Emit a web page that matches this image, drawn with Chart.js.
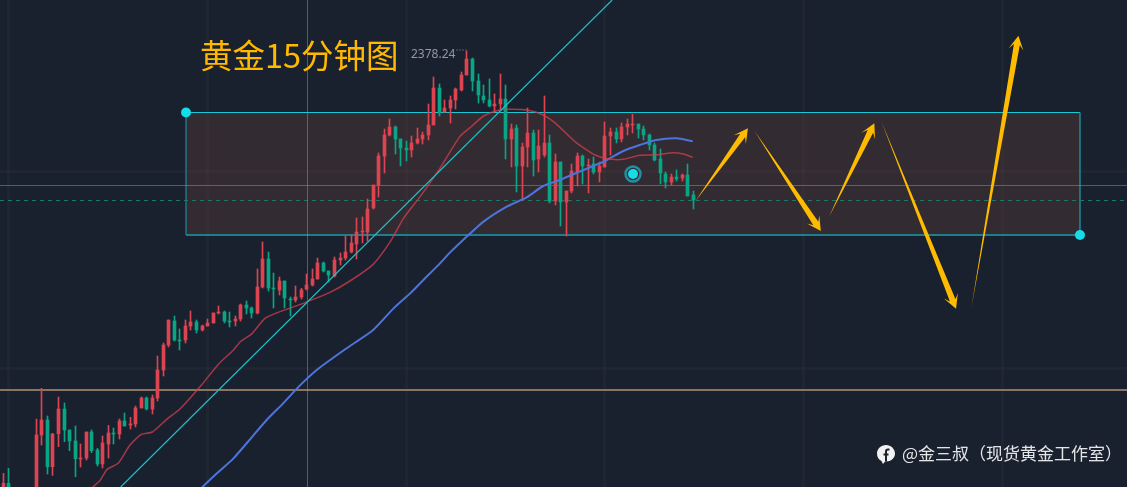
<!DOCTYPE html>
<html>
<head>
<meta charset="utf-8">
<title>黄金15分钟图</title>
<script src="https://cdn.jsdelivr.net/npm/chart.js@4"></script>
<style>
html, body { margin: 0; padding: 0; background: #1a212e; overflow: hidden; }
#wrap { position: relative; width: 1127px; height: 487px; }
canvas { display: block; }
.txt { position: absolute; white-space: nowrap; font-family: "Noto Sans CJK SC", "Noto Sans", sans-serif; }
#title { left: 200px; top: 31px; font-size: 32.5px; line-height: 46px; color: #ffb900; }
#high { left: 411px; top: 45px; font-size: 12px; line-height: 18px; color: #9297a3; font-family: "Noto Sans", sans-serif; }
#mark { left: 902px; top: 440px; font-size: 17px; line-height: 25px; color: #e4e5e7; }
#fb { position: absolute; left: 877px; top: 445px; }
</style>
</head>
<body>
<div id="wrap">
  <canvas id="mycanvas" width="1127" height="487"></canvas>
  <div class="txt" id="title">黄金15分钟图</div>
  <div class="txt" id="high">2378.24</div>
  <svg id="fb" width="18" height="20" viewBox="0 0 18 20">
    <path d="M9 0C4 0 0 3.8 0 8.6c0 3.4 1.6 6 4.5 7.4l1.5 3 2-2.4h1c5 0 9-3.5 9-8S14 0 9 0z" fill="#f2f2f2"/>
    <path d="M12.5 4.6H11c-1.4 0-2 .8-2 2V16.5M6.5 9.6h5" fill="none" stroke="#1a212e" stroke-width="2"/>
  </svg>
  <div class="txt" id="mark">@金三叔（现货黄金工作室）</div>
</div>
<script>
var opens = [
    2290.13, 2292.13, 2290, 2287, 2289.5, 2287.5, 2288.8, 2301.8, 2304.8, 2295.47,
    2302.07, 2307.0, 2302.8, 2300.6, 2297.0, 2297.2, 2302.4, 2298.8, 2296.0, 2300.0,
    2302.2, 2302.0, 2304.6, 2303.8, 2304.0, 2307.2, 2309.2, 2307.0, 2309.2, 2314.8,
    2319.8, 2324.6, 2320.8, 2320.8, 2323.6, 2324.4, 2322.8, 2323.6, 2324.2, 2326.2,
    2326.4, 2324.6, 2324.6, 2325.0, 2327.8, 2327.2, 2326.2, 2331.4, 2337.0, 2331.2,
    2330.8, 2332.6, 2329.0, 2328.8, 2329.4, 2331.0, 2331.8, 2333.0, 2336.2, 2334.6,
    2333.6, 2336.8, 2337.2, 2338.4, 2340.0, 2342.4, 2342.4, 2347.2, 2351.8, 2357.6,
    2361.8, 2363.4, 2361.0, 2359.2, 2358.8, 2360.2, 2361.0, 2361.8, 2363.8, 2371.2,
    2366.4, 2367.2, 2368.8, 2370.8, 2373.8, 2377.0, 2372.6, 2369.6, 2368.8, 2367.6,
    2368.0, 2369.0, 2361.0, 2363.2, 2355.6, 2359.4, 2362.2, 2357.0, 2357.8, 2360.2,
    2348.6, 2356.4, 2348.4, 2350.6, 2354.4, 2357.6, 2355.6, 2356.0, 2354.4, 2355.4,
    2361.6, 2362.4, 2361.0, 2363.4, 2363.8, 2364.0, 2363.0, 2361.8, 2359.8, 2357.0,
    2354.0, 2352.4, 2353.4, 2353.2, 2353.8, 2349.8
];
var closes = [
    2292.13, 2289.47, 2287, 2289.5, 2287.5, 2288.6, 2301.8, 2304.8, 2295.47, 2302.0,
    2307.0, 2302.8, 2300.6, 2297.07, 2297.2, 2302.4, 2298.67, 2296.0, 2300.2, 2302.2,
    2302.0, 2304.6, 2303.6, 2304.0, 2307.2, 2309.2, 2307.0, 2309.2, 2314.8, 2319.8,
    2324.8, 2320.8, 2320.6, 2323.6, 2324.4, 2322.8, 2323.6, 2324.2, 2326.2, 2326.4,
    2324.6, 2324.4, 2325.0, 2327.8, 2327.2, 2326.2, 2331.4, 2337.0, 2331.2, 2331.0,
    2332.6, 2329.2, 2328.8, 2329.4, 2330.8, 2331.8, 2333.0, 2336.2, 2334.6, 2333.8,
    2336.8, 2337.2, 2338.4, 2340.2, 2342.4, 2342.6, 2347.0, 2351.8, 2357.6, 2361.8,
    2363.4, 2361.0, 2359.2, 2358.8, 2360.2, 2361.0, 2361.8, 2363.8, 2371.2, 2366.2,
    2367.2, 2368.8, 2371.0, 2373.8, 2377.0, 2372.6, 2369.8, 2368.8, 2367.6, 2368.0,
    2369.0, 2361.0, 2363.0, 2355.6, 2359.4, 2362.2, 2356.8, 2359.6, 2360.2, 2348.6,
    2356.4, 2348.4, 2350.6, 2354.6, 2357.6, 2355.6, 2355.8, 2354.4, 2355.6, 2361.6,
    2362.4, 2361.0, 2363.4, 2364.0, 2364.0, 2363.0, 2361.8, 2359.8, 2356.8, 2354.2,
    2352.4, 2353.4, 2353.0, 2353.8, 2349.6, 2348.8
];
var highs = [
    2294.13, 2295.13, 2291, 2290.5, 2290.5, 2290, 2305.0, 2311.13, 2305.6, 2302.13,
    2309.4, 2308.2, 2302.8, 2303.6, 2300.0, 2302.4, 2302.8, 2299.13, 2301.6, 2303.73,
    2303.2, 2305.0, 2306.2, 2305.33, 2307.6, 2309.4, 2309.4, 2309.8, 2317.6, 2320.2,
    2324.8, 2325.6, 2323.0, 2324.8, 2326.6, 2324.8, 2323.8, 2325.0, 2326.2, 2327.6,
    2326.6, 2326.4, 2325.6, 2328.0, 2328.6, 2327.4, 2335.0, 2340.4, 2338.4, 2334.2,
    2333.4, 2332.6, 2329.4, 2331.6, 2331.13, 2334.0, 2335.0, 2337.2, 2336.4, 2334.6,
    2337.4, 2338.2, 2341.6, 2341.8, 2345.2, 2345.4, 2349.0, 2351.8, 2358.2, 2363.0,
    2365.0, 2363.6, 2361.0, 2360.6, 2361.6, 2363.2, 2362.4, 2368.0, 2373.4, 2372.0,
    2368.8, 2369.6, 2371.2, 2374.4, 2378.6, 2377.2, 2374.0, 2371.8, 2373.0, 2370.0,
    2374.0, 2371.8, 2364.0, 2363.8, 2360.2, 2367.2, 2362.8, 2362.8, 2369.6, 2361.8,
    2358.0, 2356.4, 2350.6, 2356.0, 2358.2, 2357.8, 2357.0, 2357.4, 2356.4, 2364.4,
    2363.2, 2363.2, 2364.2, 2365.0, 2366.0, 2364.0, 2363.6, 2362.0, 2360.2, 2359.0,
    2354.4, 2354.0, 2354.8, 2354.0, 2356.0, 2350.6
];
var lows = [
    2288.8, 2288.13, 2286, 2286, 2286.5, 2287, 2288.1, 2299.8, 2294.0, 2293.73,
    2299.47, 2300.47, 2298.67, 2293.47, 2295.4, 2296.8, 2298.27, 2295.6, 2295.2, 2297.2,
    2300.0, 2301.0, 2303.6, 2303.0, 2303.4, 2307.2, 2306.8, 2306.0, 2308.6, 2313.6,
    2319.4, 2320.6, 2318.8, 2320.2, 2322.8, 2322.2, 2322.6, 2323.6, 2324.2, 2326.0,
    2324.2, 2323.4, 2323.6, 2324.6, 2326.0, 2325.2, 2326.0, 2331.2, 2330.6, 2327.2,
    2329.8, 2327.2, 2325.6, 2328.4, 2329.0, 2330.8, 2331.6, 2333.0, 2334.4, 2332.4,
    2333.4, 2335.8, 2336.8, 2338.2, 2337.0, 2340.2, 2340.6, 2347.0, 2349.4, 2354.2,
    2361.6, 2358.0, 2355.6, 2356.6, 2357.4, 2360.0, 2360.0, 2360.8, 2363.8, 2365.6,
    2366.4, 2364.2, 2367.0, 2370.6, 2373.8, 2370.6, 2368.2, 2368.2, 2367.4, 2366.4,
    2367.0, 2357.0, 2355.4, 2350.4, 2348.8, 2355.4, 2353.6, 2354.4, 2357.4, 2348.2,
    2347.8, 2343.6, 2341.6, 2350.2, 2351.6, 2352.0, 2350.2, 2354.0, 2352.4, 2355.4,
    2357.8, 2360.2, 2360.4, 2361.8, 2362.2, 2361.2, 2360.8, 2358.8, 2356.6, 2352.0,
    2351.2, 2351.8, 2352.6, 2352.6, 2349.6, 2347.0
];

// moving averages, read at a few bars along each curve
var fastBars = [14.5, 16.2, 17.5, 18.8, 20.8, 22.95, 25, 27, 29.6, 32, 35.9, 39, 41.7, 42.9, 45.1, 47.4, 50.1, 53.7, 55.1, 59.2, 62.8, 67, 70.1, 72.5, 75.5, 79.1, 82.7, 84.9, 87, 89.4, 91.8, 95.1, 97.8, 99.9, 103.8, 107.2, 110.2, 112.3, 115.3, 118, 121.4, 123.2, 124.9];
var fastMa = [2289.5, 2291.4, 2292.67, 2294.93, 2296.13, 2299.8, 2301.93, 2302.4, 2304.93, 2307, 2311.8, 2316, 2318.8, 2320.4, 2322.13, 2325.13, 2326.47, 2327.87, 2328.47, 2330.33, 2332.6, 2335.93, 2340.47, 2345.13, 2349.47, 2355.13, 2361.47, 2363.6, 2365.6, 2366.67, 2366.93, 2366.73, 2365.8, 2364.27, 2360.27, 2357.8, 2356.93, 2356.93, 2357.73, 2357.8, 2358.27, 2358, 2357.33];
var slowBars = [34.5, 36.1, 38.7, 41.7, 45, 47.7, 50.7, 53.7, 57, 62, 67, 70.7, 73.7, 76.1, 79.1, 80.9, 83.3, 87, 91.2, 94.8, 97.8, 100.8, 104.4, 109, 112.3, 115.3, 118.3, 122, 124.9];
var slowMa = [2289.5, 2291.4, 2294.13, 2297.13, 2301.33, 2304.8, 2308.13, 2311.67, 2315, 2319, 2322.8, 2327.13, 2330.13, 2332.8, 2336.13, 2338.27, 2340.8, 2344.47, 2347.47, 2349.33, 2351.6, 2352.8, 2354.47, 2356.6, 2358.6, 2359.8, 2360.8, 2361.13, 2360.53];

// drawings
var trendBars = [21.27, 110.3];
var trendPrices = [2291.4, 2388.8];
var boxBars = [33.1, 195.05];
var boxPrices = [2366.3, 2341.8];
var markerBar = [114.08];
var markerPrice = [2354.0];
var supportPrice = 2310.8;
var crossPrice = 2351.7;
var lastPrice = 2348.7;
var crossBar = 55.11;
var highDots = [82.1, 83.9];
var highDotsPrice = 2378.8;

// arrows: tail bar, tail price, tip bar, tip price
var arrowTailBars = [125.4, 136.1, 149.6, 159.1, 175.4];
var arrowTailPrices = [2348.6, 2362.6, 2345.46, 2364.46, 2327.46];
var arrowTipBars = [134.9, 148.1, 157.8, 172.6, 183.9];
var arrowTipPrices = [2363.14, 2342.6, 2364.14, 2327.06, 2381.66];

var xGridBars = [1, 37, 73, 109, 145, 181];
var yGridPrices = [2315.2, 2354.6];
var xRange = [-0.6, 203.57];
var yRange = [2291.4, 2388.8];

var RED = '#dc4452', GREEN = '#0aa585';

function pairs(xs, ys) {
    return xs.map(function(x, i) { return { x: x, y: ys[i] }; });
}

function lineSet(points, color, width, order, extra) {
    var ds = {
        type: 'line', data: points, borderColor: color, borderWidth: width,
        pointRadius: 0, tension: 0, fill: false, order: order
    };
    return Object.assign(ds, extra || {});
}

function dotSet(xs, ys, radius, fill, border, borderWidth) {
    return {
        type: 'scatter', data: pairs(xs, ys), pointRadius: radius, pointBackgroundColor: fill,
        pointBorderColor: border, pointBorderWidth: borderWidth, order: 0, clip: false
    };
}

var candleColors = closes.map(function(c, i) { return c >= opens[i] ? RED : GREEN; });

var datasets = [
    // box
    lineSet(pairs(boxBars, [boxPrices[0], boxPrices[0]]), '#17c9d6', 1, 20,
        { fill: { value: boxPrices[1] }, backgroundColor: 'rgba(120,70,60,0.27)' }),
    lineSet(pairs(boxBars, [boxPrices[1], boxPrices[1]]), '#1e7f8c', 2, 19),
    lineSet(pairs([boxBars[0], boxBars[0]], boxPrices), '#1e8a98', 1.2, 19),
    lineSet(pairs([boxBars[1], boxBars[1]], boxPrices), '#1e8a98', 1.5, 19),
    // price lines
    lineSet(pairs(xRange, [crossPrice, crossPrice]), 'rgba(150,150,160,0.5)', 1, 18),
    lineSet(pairs([crossBar, crossBar], yRange), 'rgba(150,150,160,0.5)', 1, 18),
    lineSet(pairs(xRange, [supportPrice, supportPrice]), '#8a7464', 2, 18),
    lineSet(pairs(xRange, [lastPrice, lastPrice]), '#1a7a68', 1, 18, { borderDash: [4, 4] }),
    lineSet(pairs(highDots, [highDotsPrice, highDotsPrice]), '#9297a3', 1, 18, { borderDash: [1, 2] }),
    // candles
    {
        type: 'bar', grouped: false, order: 10, barThickness: 1, backgroundColor: candleColors,
        data: highs.map(function(h, i) { return { x: i, y: [lows[i], h] }; })
    },
    {
        type: 'bar', grouped: false, order: 9, barThickness: 3, backgroundColor: candleColors,
        data: opens.map(function(o, i) { return { x: i, y: [o, closes[i]] }; })
    },
    // overlays
    lineSet(pairs(fastBars, fastMa), 'rgba(214,62,80,0.75)', 1.5, 5, { tension: 0.2 }),
    lineSet(pairs(slowBars, slowMa), '#4c74dc', 2, 5, { tension: 0.2 }),
    lineSet(pairs(trendBars, trendPrices), '#1fc0c9', 1.2, 4),
    dotSet(markerBar, markerPrice, 7.5, 'rgba(0,0,0,0)', 'rgba(28,170,190,0.8)', 2.5),
    dotSet(markerBar, markerPrice, 5, '#14dce8', '#14dce8', 0),
    dotSet([boxBars[0], boxBars[1]], boxPrices, 5, '#14dce8', '#14dce8', 0)
];

// tapered arrows, placed through the scales
var arrowPlugin = {
    id: 'arrows',
    afterDatasetsDraw: function(chart) {
        var ctx = chart.ctx, sx = chart.scales.x, sy = chart.scales.y;
        ctx.save();
        ctx.fillStyle = '#ffbb00';
        for (var i = 0; i < arrowTipBars.length; i++) {
            var tx = sx.getPixelForValue(arrowTailBars[i]), ty = sy.getPixelForValue(arrowTailPrices[i]);
            var hx = sx.getPixelForValue(arrowTipBars[i]), hy = sy.getPixelForValue(arrowTipPrices[i]);
            var len = Math.sqrt((hx - tx) * (hx - tx) + (hy - ty) * (hy - ty));
            var ux = (hx - tx) / len, uy = (hy - ty) / len;
            var nx = -uy, ny = ux;
            ctx.beginPath();
            ctx.moveTo(tx, ty);
            ctx.lineTo(hx - ux * 9 + nx * 3, hy - uy * 9 + ny * 3);
            ctx.lineTo(hx - ux * 14 + nx * 7.5, hy - uy * 14 + ny * 7.5);
            ctx.lineTo(hx, hy);
            ctx.lineTo(hx - ux * 14 - nx * 7.5, hy - uy * 14 - ny * 7.5);
            ctx.lineTo(hx - ux * 9 - nx * 3, hy - uy * 9 - ny * 3);
            ctx.closePath();
            ctx.fill();
        }
        ctx.restore();
    }
};

// keep candles on whole pixels like the original
var crispPlugin = {
    id: 'crisp',
    beforeDatasetsDraw: function(chart) {
        chart.data.datasets.forEach(function(ds, i) {
            if (ds.type !== 'bar') return;
            chart.getDatasetMeta(i).data.forEach(function(bar) {
                bar.x = Math.floor(bar.x) + 0.5;
            });
        });
    }
};

function axis(range, values, extra) {
    return Object.assign({
        type: 'linear', min: range[0], max: range[1], offset: false,
        grid: { color: 'rgba(255,255,255,0.022)', lineWidth: 3, drawTicks: false, offset: false },
        border: { display: false },
        ticks: { display: false },
        afterBuildTicks: function(scale) {
            scale.ticks = values.map(function(v) { return { value: v }; });
        }
    }, extra || {});
}

new Chart(document.getElementById('mycanvas'), {
    type: 'bar',
    data: { datasets: datasets },
    options: {
        responsive: false,
        animation: false,
        layout: { padding: 0, autoPadding: false },
        plugins: { legend: { display: false }, tooltip: { enabled: false } },
        scales: { x: axis(xRange, xGridBars), y: axis(yRange, yGridPrices) }
    },
    plugins: [crispPlugin, arrowPlugin]
});
</script>
</body>
</html>
